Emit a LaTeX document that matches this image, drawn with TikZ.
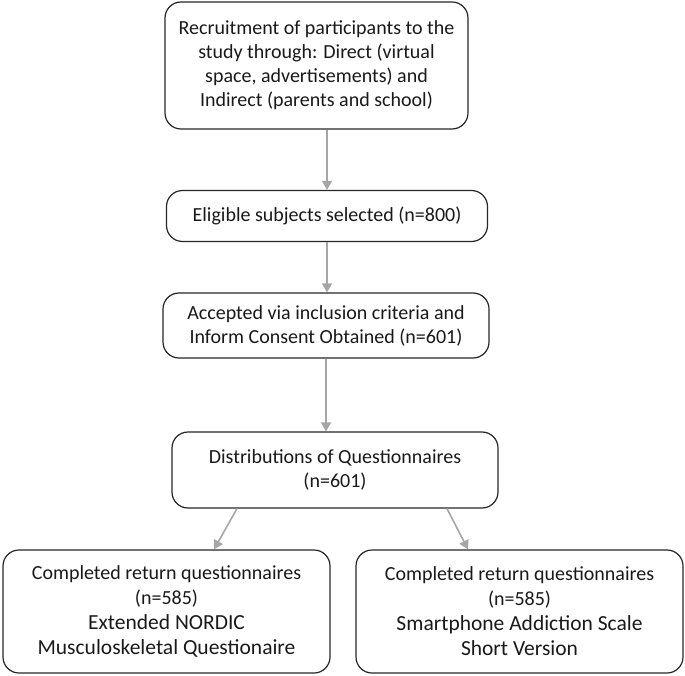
\documentclass[tikz,border=0pt]{standalone}
\usepackage{fontspec}
\setmainfont{Carlito}
\usepackage{tikz}
\usetikzlibrary{arrows.meta,calc}

\begin{document}
\begin{tikzpicture}[x=1pt,y=1pt,
  box/.style={draw=black!85, line width=1.2pt, rounded corners=16pt, align=center,
    inner sep=0pt, font=\fontsize{20}{24}\selectfont, text=black!90},
  flow/.style={draw=black!35, line width=1.6pt, -{Triangle[width=10pt,length=9pt]}}]
  \useasboundingbox (0,0) rectangle (685,-676);
  \draw (316.5,-65.5)node[box, minimum width=303, minimum height=127](0){Recruitment of participants to the\\ study through: Direct (virtual\\ space, advertisements) and\\ Indirect (parents and school)};
  \draw (327,-216)node[box, minimum width=321, minimum height=51](1){Eligible subjects selected (n=800)};
  \draw (326,-325.5)node[box, minimum width=326, minimum height=65](2){Accepted via inclusion criteria and\\ Inform Consent Obtained (n=601)};
  \draw (335,-470)node[box, minimum width=326, minimum height=76](3){Distributions of Questionnaires\\ (n=601)};
  \draw (166.5,-611.5)node[box, minimum width=327, minimum height=123, font=\fontsize{20}{25}\selectfont](4){Completed return questionnaires\\ (n=585)\\ {\fontsize{21.5}{25}\selectfont Extended NORDIC}\\ {\fontsize{21.5}{25}\selectfont Musculoskeletal Questionaire}};
  \draw (519.5,-611.5)node[box, minimum width=327, minimum height=123, font=\fontsize{20}{25}\selectfont](5){Completed return questionnaires\\ (n=585)\\ {\fontsize{21.5}{25}\selectfont Smartphone Addiction Scale}\\ {\fontsize{21.5}{25}\selectfont Short Version}};
  \path[flow] (0.south -| 1.north) -- (1.north);
  \path[flow] (1.south) -- (1.south |- 2.north);
  \path[flow] (2.south) -- (2.south |- 3.north);
  \path[flow] ($(3.south)+(-98,0)$) -- ($(4.north)+(47.5,0)$);
  \path[flow] ($(3.south)+(112,0)$) -- ($(5.north)+(-51.5,0)$);
\end{tikzpicture}
\end{document}
